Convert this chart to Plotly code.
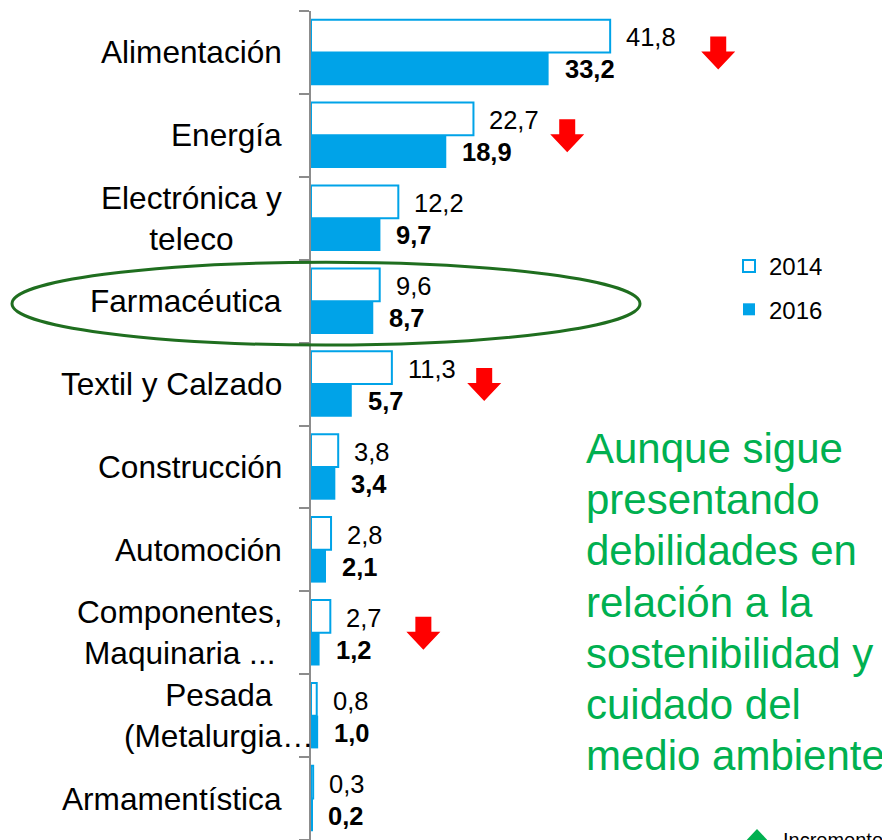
import plotly.graph_objects as go

# ---------------- data ----------------
categories = ["Alimentación", "Energía", "Electrónica y<br>teleco", "Farmacéutica",
              "Textil y Calzado", "Construcción", "Automoción",
              "Componentes,<br>Maquinaria ...", "Pesada<br>(Metalurgia…", "Armamentística"]
values_2014 = [41.8, 22.7, 12.2, 9.6, 11.3, 3.8, 2.8, 2.7, 0.8, 0.3]
values_2016 = [33.2, 18.9, 9.7, 8.7, 5.7, 3.4, 2.1, 1.2, 1.0, 0.2]
series_names = ["2014", "2016"]

# decrease arrows: (category index, x position in data units)
arrow_cats = [0, 1, 4, 7]
arrow_x = [56.9, 35.8, 24.2, 15.7]

note_lines = ["Aunque sigue", "presentando", "debilidades en", "relación a la",
              "sostenibilidad y", "cuidado del", "medio ambiente"]
extra_legend_label = "Incremento"

# ---------------- style ----------------
BLUE = "#00A3E8"
GREEN = "#00B050"
DARKGREEN = "#1F6E1F"
FONT = "Liberation Sans, Arial, sans-serif"
OFF = 8                      # page body margin
W, H = 890 - OFF, 840 - OFF
ML, MT = 311 - OFF, 11 - OFF
PW, PH = W - ML, H - MT
X_MAX = 80.9


def fmt(v):
    return f"{v:.1f}".replace(".", ",")


def py_paper(py):  # py in page pixels
    return (H - (py - OFF)) / PH


def px_paper(px):  # px in page pixels
    return ((px - OFF) - ML) / PW


ypos = list(range(len(categories)))

fig = go.Figure()
fig.add_trace(go.Bar(
    y=ypos, x=values_2014, orientation="h", name=series_names[0],
    marker=dict(color="white", line=dict(color=BLUE, width=2)),
    legendgroup="a", hoverinfo="x+name"))
fig.add_trace(go.Bar(
    y=ypos, x=values_2016, orientation="h", name=series_names[1],
    marker=dict(color=BLUE, line=dict(color=BLUE, width=0)),
    legendgroup="b", hoverinfo="x+name"))

annotations = []
# category labels
for i, c in enumerate(categories):
    shift = -27 if "Metalurgia" not in c else 5
    annotations.append(dict(
        xref="paper", yref="y", x=0, y=i, xanchor="right", yanchor="middle",
        xshift=shift, text=c, showarrow=False, align="center",
        font=dict(family=FONT, size=31.6, color="black")))
# value labels
for i, (a, b) in enumerate(zip(values_2014, values_2016)):
    annotations.append(dict(
        xref="x", yref="y", x=a, y=i, xanchor="left", yanchor="middle",
        xshift=14, yshift=15, text=fmt(a), showarrow=False,
        font=dict(family=FONT, size=25.5, color="black")))
    annotations.append(dict(
        xref="x", yref="y", x=b, y=i, xanchor="left", yanchor="middle",
        xshift=14, yshift=-17, text="<b>" + fmt(b) + "</b>", showarrow=False,
        font=dict(family=FONT, size=25.5, color="black")))
# green note
for k, line in enumerate(note_lines):
    annotations.append(dict(
        xref="paper", yref="paper", x=px_paper(584), y=py_paper(448.5 + 51.2 * k),
        xanchor="left", yanchor="middle", text=line, showarrow=False,
        font=dict(family=FONT, size=42, color=GREEN)))
# partially visible extra legend entry
annotations.append(dict(
    xref="paper", yref="paper", x=px_paper(781), y=py_paper(827),
    xanchor="left", yanchor="top", text=extra_legend_label, showarrow=False,
    font=dict(family=FONT, size=20, color="black")))

shapes = []
# ellipse around Farmacéutica
shapes.append(dict(
    type="circle", xref="paper", yref="y",
    x0=px_paper(12), x1=px_paper(640), y0=2.53, y1=3.53,
    line=dict(color=DARKGREEN, width=3), fillcolor="rgba(0,0,0,0)"))
# red down arrows
for ci, xv in zip(arrow_cats, arrow_x):
    shapes.append(dict(
        type="path", xref="x", yref="y", xsizemode="pixel", ysizemode="pixel",
        xanchor=xv, yanchor=ci,
        path="M -8,16 L 8,16 L 8,1 L 17,1 L 0,-17 L -17,1 L -8,1 Z",
        fillcolor="#FF0000", line=dict(width=0)))
# green triangle for "Incremento"
shapes.append(dict(
    type="path", xref="paper", yref="paper",
    path=f"M {px_paper(757)},{py_paper(829)} L {px_paper(771)},{py_paper(844)} "
         f"L {px_paper(743)},{py_paper(844)} Z",
    fillcolor=GREEN, line=dict(width=0)))

fig.update_layout(
    width=W, height=H,
    margin=dict(l=ML, r=0, t=MT, b=0, pad=0),
    paper_bgcolor="white", plot_bgcolor="white",
    barmode="group", bargap=0.21, bargroupgap=0,
    font=dict(family=FONT, size=24, color="black"),
    xaxis=dict(range=[0, X_MAX], visible=False, fixedrange=True),
    yaxis=dict(type="linear", range=[9.5, -0.5], showticklabels=False,
               showgrid=False, zeroline=False, showline=True,
               linecolor="#8C8C8C", linewidth=2,
               ticks="outside", ticklen=10, tickcolor="#8C8C8C", tickwidth=2,
               tickmode="array", tickvals=[i - 0.5 for i in range(len(categories) + 1)],
               fixedrange=True),
    legend=dict(x=px_paper(729), y=py_paper(244), xanchor="left", yanchor="top",
                font=dict(family=FONT, size=24, color="black"),
                traceorder="grouped", tracegroupgap=9, itemwidth=30,
                bgcolor="rgba(0,0,0,0)"),
    annotations=annotations, shapes=shapes,
    showlegend=True,
)

fig.write_html("out.html")
